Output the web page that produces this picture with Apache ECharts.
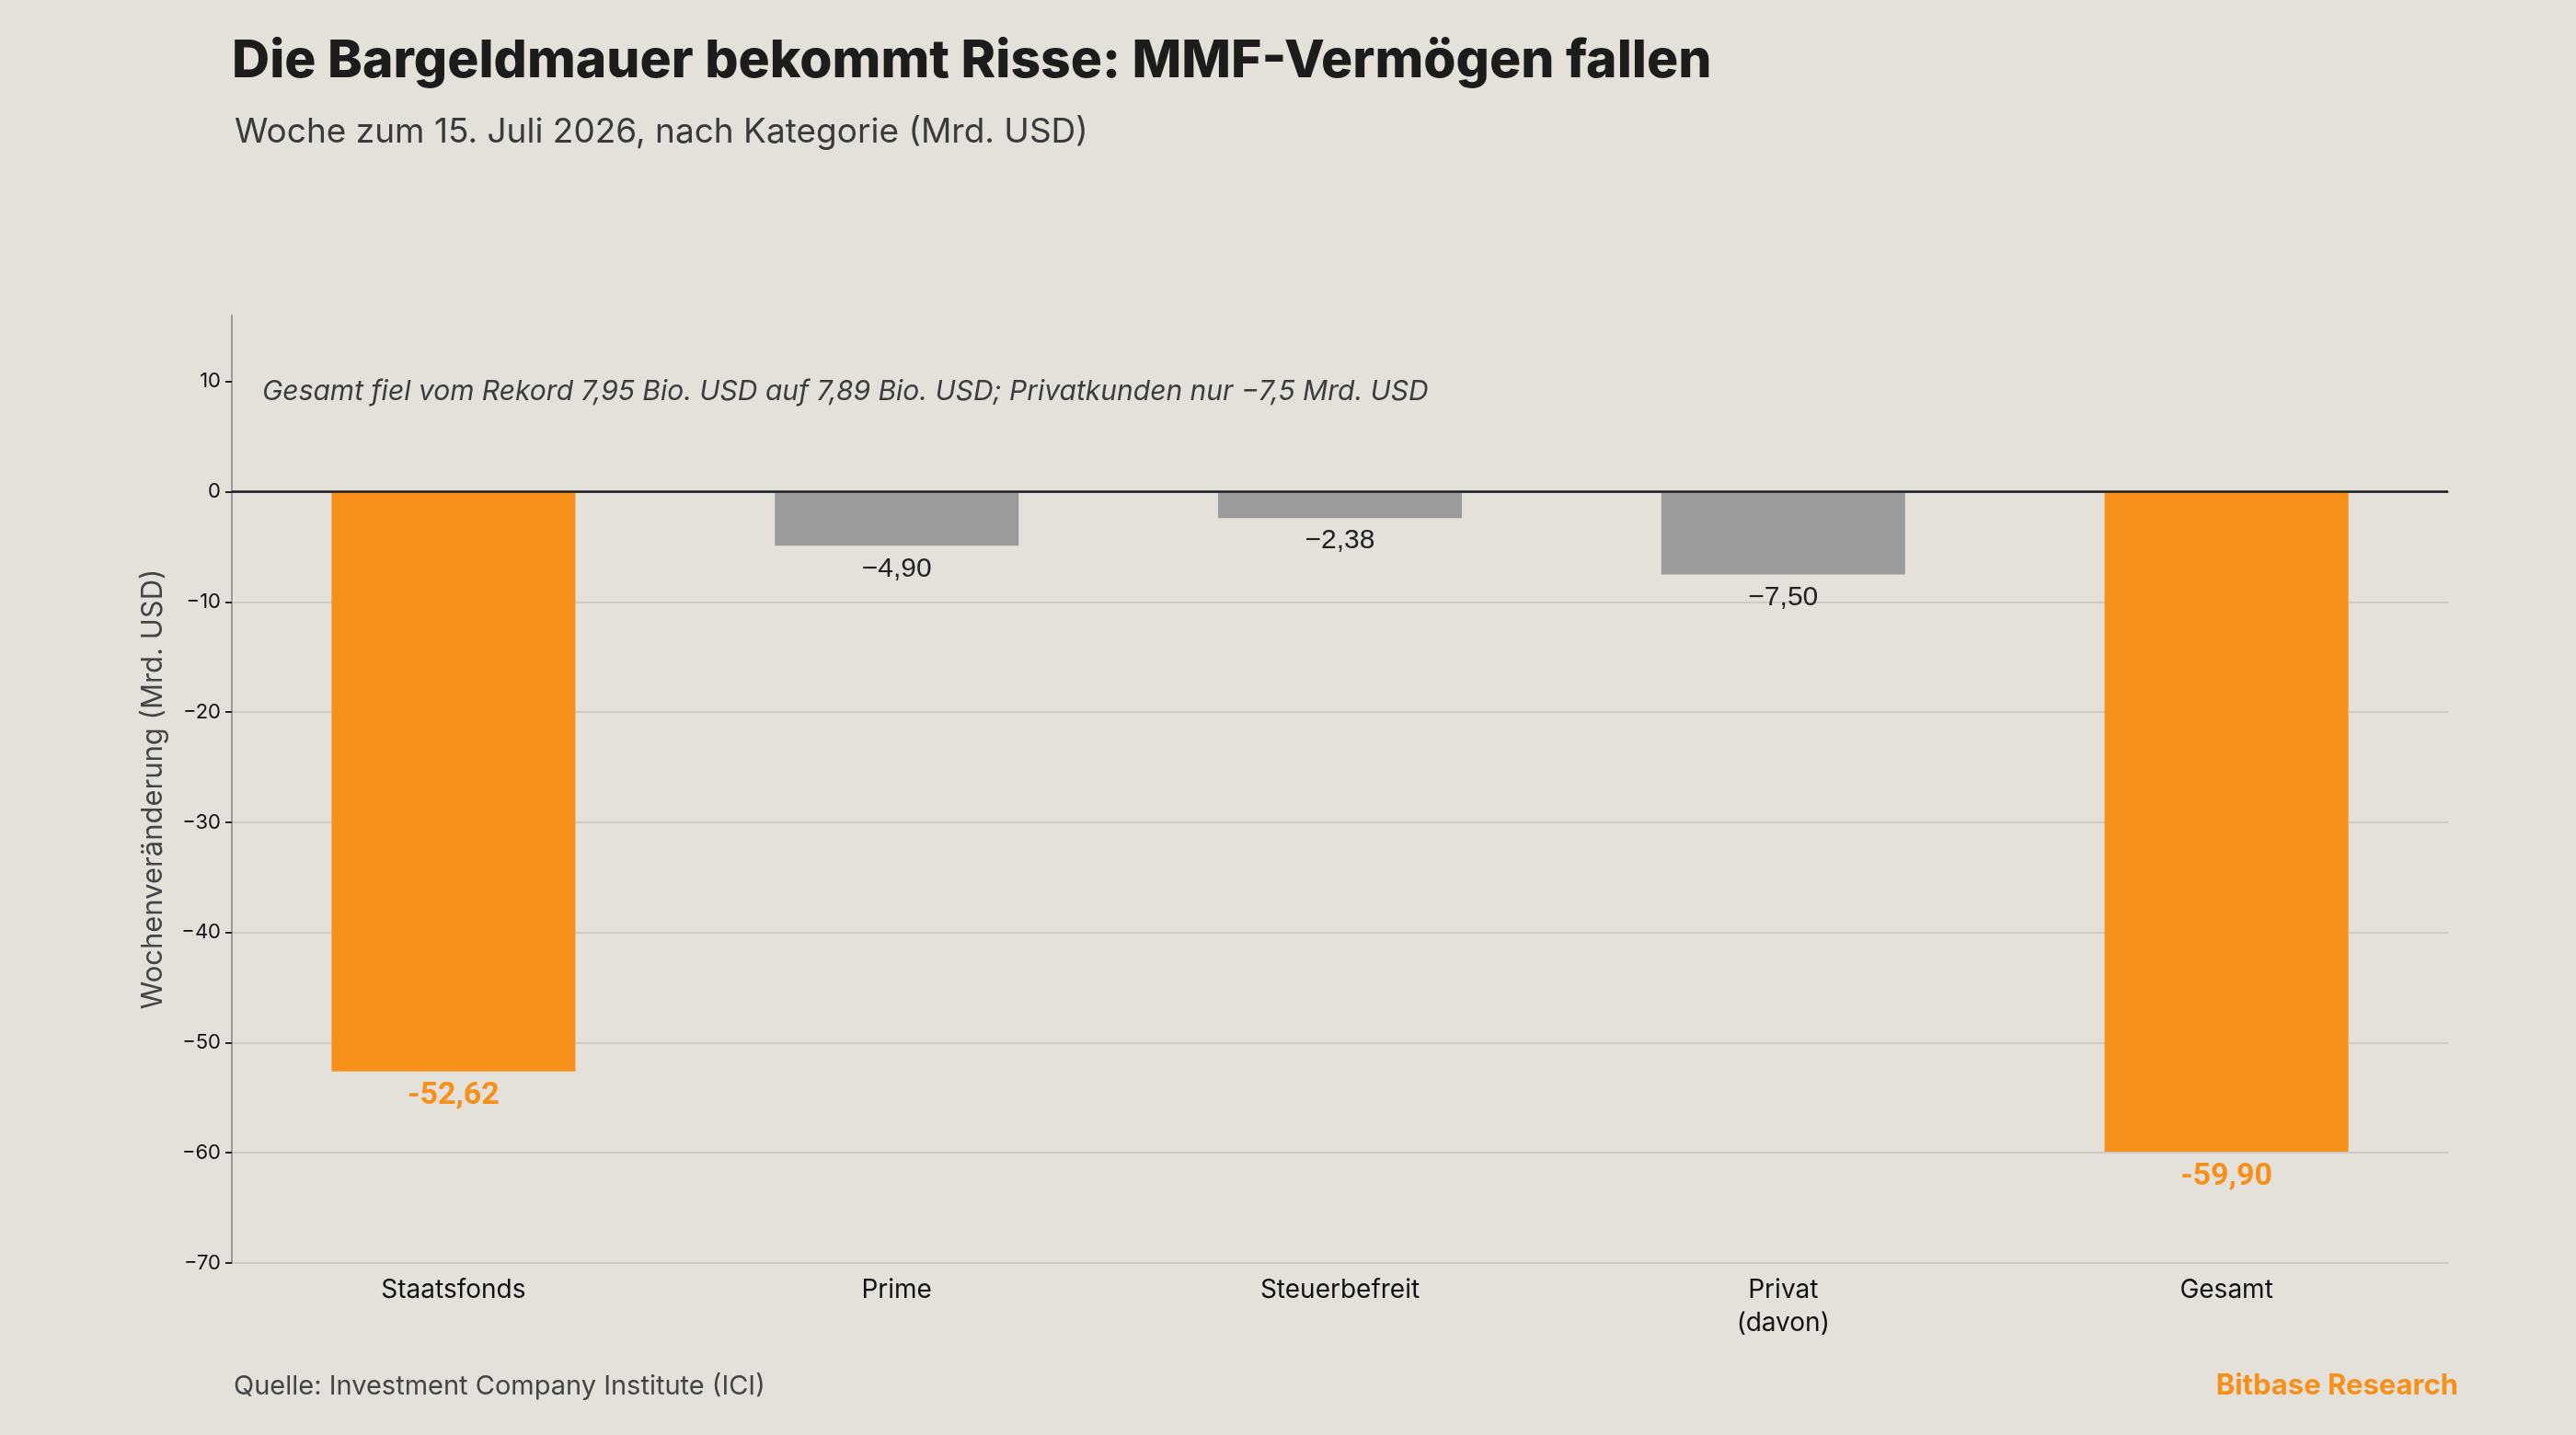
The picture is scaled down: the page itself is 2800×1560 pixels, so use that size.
<!DOCTYPE html>
<html>
<head>
<meta charset="utf-8">
<script src="https://cdn.jsdelivr.net/npm/echarts@6/dist/echarts.min.js"></script>
<style>
  html, body { margin: 0; padding: 0; background: #E4E0DA; }
  #chart { width: 2800px; height: 1560px; }
</style>
</head>
<body>
<div id="chart"></div>
<script>
// Wochenveränderung MMF-Vermögen nach Kategorie (Mrd. USD)
var kategorien = ['Staatsfonds', 'Prime', 'Steuerbefreit', 'Privat\n(davon)', 'Gesamt'];
var veraenderung = [-52.62, -4.90, -2.38, -7.50, -59.90];
var hervorgehoben = ['Staatsfonds', 'Gesamt'];
var yTicks = [-70, -60, -50, -40, -30, -20, -10, 0, 10];

var ORANGE = '#F6901A';
var GRAU = '#9B9B9B';
var FONT = 'Inter, "Noto Sans", sans-serif';

function fmt(v, minus) {
    return (v < 0 ? minus : '') + Math.abs(v).toFixed(2).replace('.', ',');
}

var balken = veraenderung.map(function (v, i) {
    var hi = hervorgehoben.indexOf(kategorien[i]) >= 0;
    return {
        value: v,
        itemStyle: { color: hi ? ORANGE : GRAU },
        label: hi
            ? { color: ORANGE, fontWeight: 'bold', fontSize: 34, fontFamily: 'Roboto, sans-serif',
                formatter: function (p) { return fmt(p.value, '-'); } }
            : { color: '#222', fontWeight: 'normal', fontSize: 30, fontFamily: '"Liberation Sans", sans-serif',
                formatter: function (p) { return fmt(p.value, '\u2212'); } }
    };
});

var chart = echarts.init(document.getElementById('chart'));

var option = {
    backgroundColor: '#E4E0DA',
    animation: false,
    title: [
        {
            text: 'Die Bargeldmauer bekommt Risse: MMF-Vermögen fallen',
            left: 247, top: 33,
            textStyle: { fontFamily: FONT, fontWeight: 800, fontSize: 57, color: '#1c1c1c' }
        },
        {
            text: 'Woche zum 15. Juli 2026, nach Kategorie (Mrd. USD)',
            left: 250, top: 120,
            textStyle: { fontFamily: FONT, fontWeight: 'normal', fontSize: 37, color: '#3a3a3a' }
        },
        {
            text: 'Quelle: Investment Company Institute (ICI)',
            left: 249, top: 1488,
            textStyle: { fontFamily: FONT, fontWeight: 'normal', fontSize: 29, color: '#444' }
        },
        {
            text: 'Bitbase Research',
            right: 123, top: 1486,
            textStyle: { fontFamily: FONT, fontWeight: 'bold', fontSize: 31, color: ORANGE }
        }
    ],
    graphic: [
        {
            type: 'text',
            left: 285, top: 411,
            style: {
                text: 'Gesamt fiel vom Rekord 7,95 Bio. USD auf 7,89 Bio. USD; Privatkunden nur \u22127,5 Mrd. USD',
                font: 'italic 30px ' + FONT,
                fill: '#3c3c3c'
            }
        }
    ],
    grid: { left: 252, right: 139, top: 343, bottom: 187 },
    xAxis: {
        type: 'category',
        data: kategorien,
        axisLine: { lineStyle: { color: '#9a9a9a', width: 2 } },
        axisTick: { alignWithLabel: true, length: 6, lineStyle: { color: '#222' } },
        axisLabel: { color: '#111', fontFamily: FONT, fontSize: 28, lineHeight: 36, margin: 12 }
    },
    yAxis: {
        type: 'value',
        min: -70, max: 16, interval: 10,
        name: 'Wochenveränderung (Mrd. USD)',
        nameLocation: 'middle',
        nameGap: 70,
        nameTextStyle: { color: '#444', fontFamily: FONT, fontSize: 31 },
        axisLine: { show: true, lineStyle: { color: '#9a9a9a', width: 2 } },
        axisTick: { show: true, length: 7, lineStyle: { color: '#222', width: 2 }, customValues: yTicks },
        axisLabel: {
            color: '#111', fontFamily: FONT, fontSize: 22, margin: 12,
            customValues: yTicks,
            formatter: function (v) { return v < 0 ? '\u2212' + Math.abs(v) : String(v); }
        },
        splitLine: { show: true, showMaxLine: false, lineStyle: { color: '#cfcac3', width: 2 } }
    },
    series: [
        {
            type: 'bar',
            data: balken,
            barWidth: '55%',
            label: {
                show: true,
                position: 'bottom',
                distance: 10
            },
            markLine: {
                silent: true,
                symbol: 'none',
                z: 5,
                label: { show: false },
                lineStyle: { color: '#1e1e1e', width: 2.5, type: 'solid' },
                data: [{ yAxis: 0 }]
            }
        }
    ]
};

chart.setOption(option);
</script>
</body>
</html>
